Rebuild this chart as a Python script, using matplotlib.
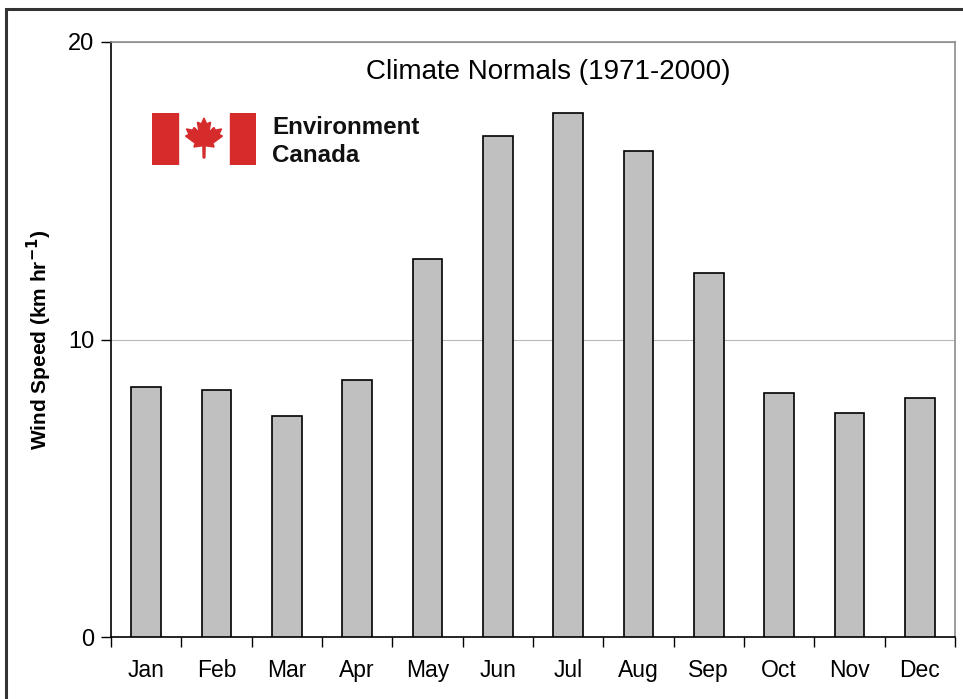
import numpy as np
import matplotlib
matplotlib.use("Agg")
import matplotlib.pyplot as plt
from matplotlib.patches import Rectangle, Polygon

plt.rcParams["font.family"] = ["Liberation Sans", "DejaVu Sans"]

months = ["Jan", "Feb", "Mar", "Apr", "May", "Jun",
          "Jul", "Aug", "Sep", "Oct", "Nov", "Dec"]
wind_speed = [8.4, 8.3, 7.43, 8.64, 12.71, 16.84,
              17.61, 16.34, 12.24, 8.2, 7.53, 8.03]

W, H = 963, 699


def fx(px):
    return px / W


def fy(py):
    return 1 - py / H


fig = plt.figure(figsize=(W / 100, H / 100), dpi=100)

# outer frame of the slide
fig.patches.append(Rectangle((fx(6), fy(760)), fx(1000), fy(9) - fy(760),
                             transform=fig.transFigure, fill=False,
                             edgecolor="#333333", linewidth=2.2))

ax = fig.add_axes([fx(111), fy(637), fx(955) - fx(111), fy(42) - fy(637)])
x = np.arange(len(months))
ax.bar(x, wind_speed, width=0.42, color="#c0c0c0", edgecolor="black",
       linewidth=1.2, zorder=3)

ax.set_xlim(-0.5, len(months) - 0.5)
ax.set_ylim(0, 20)
ax.set_yticks([0, 10, 20])
ax.set_xticks(x)
ax.set_xticklabels(months)
ax.set_xticks(np.arange(-0.5, len(months)), minor=True)
ax.tick_params(axis="x", which="major", length=0, pad=16, labelsize=16.5)
ax.tick_params(axis="x", which="minor", length=7, width=1, direction="out")
ax.tick_params(axis="y", length=7, width=1, direction="out", labelsize=17,
               pad=5)
ax.yaxis.grid(True, color="#b8b8b8", linewidth=0.8, zorder=0)

for side in ["top", "right"]:
    ax.spines[side].set_color("#8c8c8c")
    ax.spines[side].set_linewidth(1.2)
for side in ["left", "bottom"]:
    ax.spines[side].set_color("black")
    ax.spines[side].set_linewidth(1.2)

ax.set_ylabel("Wind Speed (km hr$^{\\mathbf{-1}}$)", fontsize=15,
              fontweight="bold", labelpad=10)

ax.text(0.518, 0.95, "Climate Normals (1971-2000)", transform=ax.transAxes,
        ha="center", va="center", fontsize=20)

# Environment Canada logo
logo = fig.add_axes([fx(152), fy(165), fx(256) - fx(152), fy(113) - fy(165)])
logo.set_xlim(0, 104)
logo.set_ylim(0, 52)
logo.axis("off")
red = "#d52b2b"
logo.add_patch(Rectangle((0, 0), 26, 52, color=red))
logo.add_patch(Rectangle((78, 0), 26, 52, color=red))

half = [(0, 1.0), (0.12, 0.72), (0.30, 0.80), (0.22, 0.32), (0.45, 0.55),
        (0.52, 0.42), (0.80, 0.48), (0.68, 0.22), (0.84, 0.14),
        (0.40, -0.20), (0.46, -0.38), (0.05, -0.32), (0.04, -0.90)]
leaf = half + [(-px, py) for px, py in reversed(half)]
leaf = [(52 + 22 * px, 26 + 21 * py) for px, py in leaf]
logo.add_patch(Polygon(leaf, closed=True, color=red))

fig.text(fx(272), fy(127), "Environment", ha="left", va="center",
         fontsize=17.4, fontweight="bold", color="#111111")
fig.text(fx(272), fy(156), "Canada", ha="left", va="center",
         fontsize=17.4, fontweight="bold", color="#111111")

fig.savefig("out.png", dpi=100)
